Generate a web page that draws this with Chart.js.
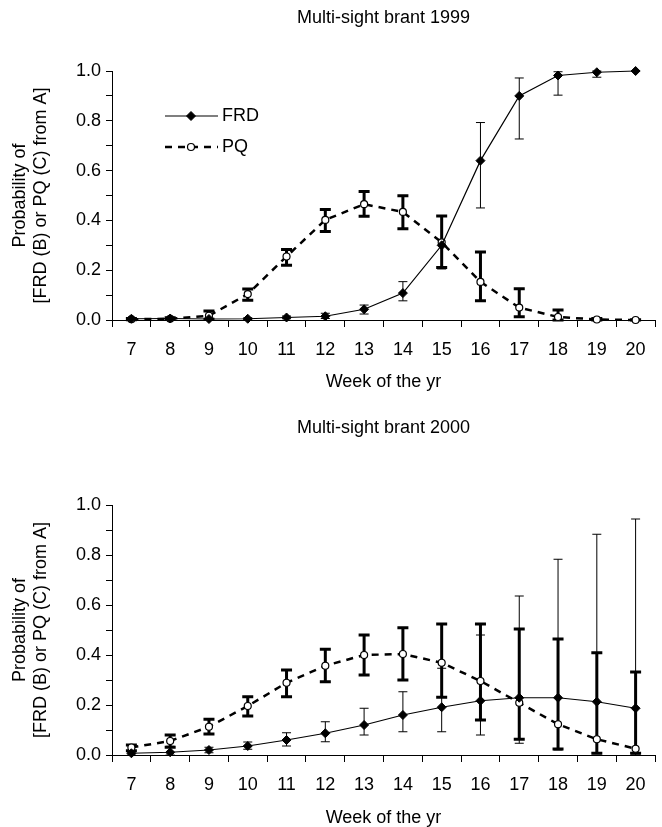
<!DOCTYPE html>
<html><head><meta charset="utf-8">
<script src="https://cdn.jsdelivr.net/npm/chart.js@4.4.1/dist/chart.umd.min.js"></script>
<style>
html,body{margin:0;padding:0;background:#fff}
canvas{display:block}
</style></head><body>
<canvas id="c1999" width="662" height="413"></canvas>
<canvas id="c2000" width="662" height="414"></canvas>
<script>
// Multi-sight brant: weekly probability of FRD / PQ from A, 1999 and 2000
const weeks = ['7','8','9','10','11','12','13','14','15','16','17','18','19','20'];

const frd1999   = [0.005,0.006,0.004,0.005,0.010,0.015,0.043,0.108,0.300,0.640,0.900,0.982,0.995,1.000];
const frd1999Lo = [0.001,0.002,0.001,0.002,0.005,0.006,0.024,0.077,0.205,0.450,0.727,0.903,0.975,1.000];
const frd1999Hi = [0.010,0.011,0.008,0.009,0.016,0.027,0.060,0.154,0.418,0.793,0.972,0.997,1.000,1.000];
const pq1999    = [0.003,0.005,0.017,0.104,0.255,0.402,0.465,0.434,0.312,0.153,0.050,0.012,0.002,0.000];
const pq1999Lo  = [0.001,0.002,0.003,0.079,0.220,0.355,0.417,0.366,0.211,0.077,0.013,0.000,0.000,0.000];
const pq1999Hi  = [0.006,0.009,0.036,0.124,0.283,0.444,0.516,0.499,0.418,0.273,0.126,0.040,0.006,0.001];

const frd2000   = [0.007,0.011,0.020,0.036,0.060,0.087,0.120,0.160,0.191,0.217,0.229,0.229,0.213,0.187];
const frd2000Lo = [0.000,0.000,0.009,0.023,0.036,0.053,0.080,0.093,0.093,0.080,0.047,0.020,0.005,0.000];
const frd2000Hi = [0.015,0.035,0.031,0.052,0.089,0.133,0.187,0.253,0.347,0.480,0.636,0.783,0.883,0.944];
const pq2000    = [0.030,0.056,0.113,0.196,0.289,0.357,0.400,0.404,0.369,0.296,0.209,0.123,0.063,0.025];
const pq2000Lo  = [0.017,0.031,0.084,0.156,0.233,0.293,0.320,0.300,0.231,0.140,0.063,0.024,0.007,0.007];
const pq2000Hi  = [0.040,0.080,0.143,0.233,0.340,0.423,0.480,0.509,0.524,0.524,0.504,0.464,0.409,0.332];

const FONT = '"Liberation Sans", Arial, Helvetica, sans-serif';
const PQ_DASH = [7,6];

// error bars drawn under the markers
const errorBars = {
  id:'errorBars',
  beforeDatasetsDraw(chart){
    const ctx = chart.ctx, y = chart.scales.y;
    chart.data.datasets.forEach((ds,i)=>{
      const meta = chart.getDatasetMeta(i);
      ctx.save();
      ctx.strokeStyle = '#000'; ctx.lineWidth = ds.errWidth; ctx.setLineDash([]);
      meta.data.forEach((pt,j)=>{
        const x = pt.x, lo = y.getPixelForValue(ds.errLo[j]), hi = y.getPixelForValue(ds.errHi[j]);
        ctx.beginPath();
        ctx.moveTo(x,lo); ctx.lineTo(x,hi);
        ctx.moveTo(x-ds.errCap,lo); ctx.lineTo(x+ds.errCap,lo);
        ctx.moveTo(x-ds.errCap,hi); ctx.lineTo(x+ds.errCap,hi);
        ctx.stroke();
      });
      ctx.restore();
    });
  }
};

function titlePlugin(text, ty){
  return {
    id:'plotTitle',
    afterDraw(chart){
      const ctx = chart.ctx, a = chart.chartArea;
      ctx.save();
      ctx.font = '18px '+FONT; ctx.fillStyle = '#000';
      ctx.textAlign = 'center'; ctx.textBaseline = 'middle';
      ctx.fillText(text, (a.left+a.right)/2, ty);
      ctx.restore();
    }
  };
}

// legend: line sample with marker in the middle, label on the right
const legendBox = {
  id:'legendBox',
  afterDraw(chart){
    const ctx = chart.ctx;
    const rows = [{ds:chart.data.datasets[0], y:116}, {ds:chart.data.datasets[1], y:147}];
    ctx.save();
    rows.forEach(r=>{
      const ds = r.ds, cx = 191, rad = ds.pointRadius;
      ctx.strokeStyle = '#000'; ctx.lineWidth = ds.borderWidth;
      ctx.setLineDash(ds.borderDash||[]);
      ctx.beginPath(); ctx.moveTo(165,r.y); ctx.lineTo(218,r.y); ctx.stroke();
      ctx.setLineDash([]);
      ctx.fillStyle = ds.pointBackgroundColor; ctx.lineWidth = ds.pointBorderWidth;
      ctx.beginPath();
      if(ds.pointStyle==='circle'){ ctx.arc(cx,r.y,rad,0,Math.PI*2); }
      else { ctx.moveTo(cx,r.y-rad); ctx.lineTo(cx+rad,r.y); ctx.lineTo(cx,r.y+rad); ctx.lineTo(cx-rad,r.y); ctx.closePath(); }
      ctx.fill(); ctx.stroke();
      ctx.font = '18px '+FONT; ctx.fillStyle = '#000';
      ctx.textAlign = 'left'; ctx.textBaseline = 'middle';
      ctx.fillText(ds.label, 222, r.y);
    });
    ctx.restore();
  }
};

function makeChart(id, title, titleY, topPad, xHeight, xTitlePad, frd, frdLo, frdHi, pq, pqLo, pqHi, withLegend){
  const plugins = [errorBars, titlePlugin(title, titleY)];
  if(withLegend) plugins.push(legendBox);
  return new Chart(document.getElementById(id), {
    type:'line',
    data:{
      labels:weeks,
      datasets:[
        {label:'FRD', data:frd, errLo:frdLo, errHi:frdHi, errWidth:1, errCap:4.5,
         borderColor:'#000', borderWidth:1.2, tension:0, clip:false,
         pointStyle:'rectRot', pointRadius:4.5, pointBackgroundColor:'#000', pointBorderColor:'#000', pointBorderWidth:1},
        {label:'PQ', data:pq, errLo:pqLo, errHi:pqHi, errWidth:3, errCap:5.5,
         borderColor:'#000', borderWidth:2.5, borderDash:PQ_DASH, tension:0, clip:false,
         pointStyle:'circle', pointRadius:3.5, pointBackgroundColor:'#fff', pointBorderColor:'#000', pointBorderWidth:1.2}
      ]
    },
    options:{
      responsive:false, animation:false, devicePixelRatio:1,
      layout:{padding:{top:topPad, right:7, left:0, bottom:0}},
      plugins:{legend:{display:false}, tooltip:{enabled:false}, title:{display:false}},
      scales:{
        x:{
          type:'category', offset:true,
          grid:{offset:true, drawOnChartArea:false, drawTicks:true, tickLength:7, color:'#000', lineWidth:1},
          border:{display:true, color:'#000', width:1},
          ticks:{color:'#000', padding:12, maxRotation:0, autoSkip:false, font:{family:FONT, size:18}},
          title:{display:true, text:'Week of the yr', color:'#000', font:{family:FONT, size:18, lineHeight:1},
            padding:{top:0, bottom:xTitlePad}},
          afterFit(s){ s.height = xHeight; }
        },
        y:{
          min:0, max:1,
          grid:{drawOnChartArea:false, drawTicks:true, tickLength:6, color:'#000', lineWidth:1},
          border:{display:true, color:'#000', width:1},
          ticks:{stepSize:0.1, color:'#000', padding:5, font:{family:FONT, size:18},
            callback:v=>Math.round(v*10)%2===0 ? v.toFixed(1) : ''},
          title:{display:true, text:['Probability of','[FRD (B) or PQ (C) from A]'], color:'#000',
            font:{family:FONT, size:18}, padding:{top:9, bottom:0}},
          afterFit(s){ s.width = 112; }
        }
      }
    },
    plugins
  });
}

makeChart('c1999','Multi-sight brant 1999', 18, 71, 93, 22, frd1999, frd1999Lo, frd1999Hi, pq1999, pq1999Lo, pq1999Hi, true);
makeChart('c2000','Multi-sight brant 2000', 15, 92, 72, 0, frd2000, frd2000Lo, frd2000Hi, pq2000, pq2000Lo, pq2000Hi, false);
</script>
</body></html>
